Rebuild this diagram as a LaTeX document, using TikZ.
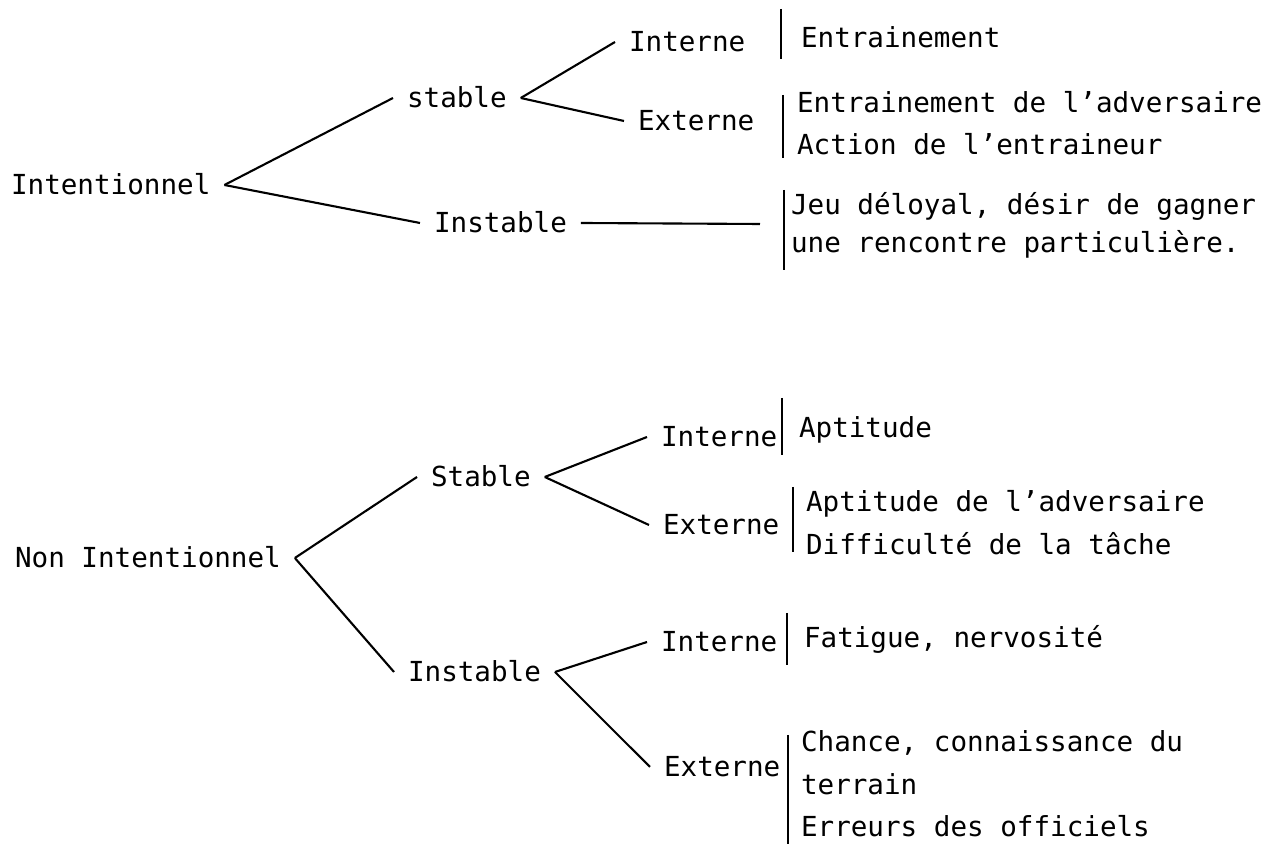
\documentclass[tikz,border=0pt]{standalone}
\usepackage{fontspec}
\setmainfont{DejaVu Sans Mono}
\begin{document}
\begin{tikzpicture}[x=1mm, y=-1mm, line width=0.6pt,
  lbl/.style={font=\fontsize{7.85}{11.9}\selectfont, inner xsep=1.3mm, inner ysep=0pt, text height=2mm, text depth=0pt, anchor=base west},
  txt/.style={font=\fontsize{7.85}{11.9}\selectfont, inner sep=0pt, anchor=base west}]
\useasboundingbox (0,0) rectangle (127.8,84.4);
% intentionnel
\node[lbl] (intent) at (-0.3,19.5){Intentionnel};
\node[lbl] (stabA) at (39.3,10.8){stable};
\node[lbl] (instA) at (42.0,23.3){Instable};
\node[lbl] (intA) at (61.5,5.2){Interne};
\node[lbl] (extA) at (62.4,13.1){Externe};
\coordinate (jeuend) at (76.0,22.4);
\draw[](intent.east) -- (stabA.west);
\draw[](intent.east) -- (instA.west);
\draw[](stabA.east) -- (intA.west);
\draw[](stabA.east) -- (extA.west);
\draw[](instA.east) -- (jeuend);
\draw (78.1,0.9) -- (78.1,5.9);
\draw (78.3,9.5) -- (78.3,15.8);
\draw (78.4,19.0) -- (78.4,27.0);
\node[txt] (entr) at (80.0,4.8){Entrainement};
\node[txt] (advA) at (79.6,11.3){Entrainement de l'adversaire};
\node[txt] (actA) at (79.6,15.5){Action de l'entraineur};
\node[txt] (jeuA) at (79.0,21.5){Jeu déloyal, désir de gagner};
\node[txt] (jeuB) at (79.0,25.3){une rencontre particulière.};
% non intentionnel
\node[lbl] (nonint) at (0.1,56.8){Non Intentionnel};
\node[lbl] (stabB) at (41.7,48.7){Stable};
\node[lbl] (instB) at (39.4,68.2){Instable};
\node[lbl] (intB) at (64.7,44.7){Interne};
\node[lbl] (extB) at (64.9,53.5){Externe};
\node[lbl] (intC) at (64.7,65.2){Interne};
\node[lbl] (extC) at (65.0,77.7){Externe};
\draw[](nonint.east) -- (stabB.west);
\draw[](nonint.east) -- (instB.west);
\draw[](stabB.east) -- (intB.west);
\draw[](stabB.east) -- (extB.west);
\draw[](instB.east) -- (intC.west);
\draw[](instB.east) -- (extC.west);
\draw (78.2,39.8) -- (78.2,45.5);
\draw (79.3,48.7) -- (79.3,55.2);
\draw (78.7,61.3) -- (78.7,66.5);
\draw (78.8,73.5) -- (78.8,84.4);
\node[txt] (apt) at (79.8,43.8){Aptitude};
\node[txt] (aptadv) at (80.5,51.2){Aptitude de l'adversaire};
\node[txt] (diff) at (80.5,55.5){Difficulté de la tâche};
\node[txt] (fatig) at (80.3,64.8){Fatigue, nervosité};
\node[txt] (chance) at (80.0,75.2){Chance, connaissance du};
\node[txt] (terr) at (80.0,79.5){terrain};
\node[txt] (err) at (80.0,83.7){Erreurs des officiels};
\end{tikzpicture}
\end{document}
